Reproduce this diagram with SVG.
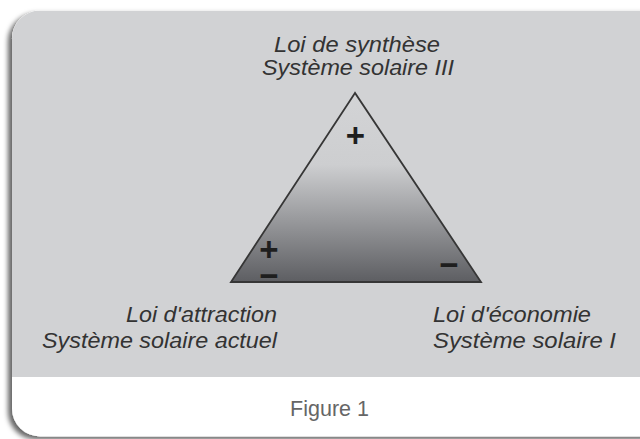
<svg xmlns="http://www.w3.org/2000/svg" width="640" height="439" viewBox="0 0 640 439">
<style>
.lbl{font-family:"Liberation Sans",Arial,sans-serif;font-style:italic;font-size:21.5px;fill:#333333}
.sign{font-family:"Liberation Sans",Arial,sans-serif;font-weight:bold;font-size:33px;fill:#1e1e1e;text-anchor:middle}
.cap{font-family:"Liberation Sans",Arial,sans-serif;font-size:21.5px;fill:#666666;text-anchor:middle}
</style>
<defs>
<filter id="sh" x="-5%" y="-5%" width="110%" height="110%">
<feDropShadow dx="-4" dy="3" stdDeviation="2.8" flood-color="#000" flood-opacity="0.6"/>
</filter>
<clipPath id="cardclip"><rect x="12" y="10.5" width="660" height="426" rx="28"/></clipPath>
<linearGradient id="tri" gradientUnits="userSpaceOnUse" x1="0" y1="93" x2="0" y2="282">
<stop offset="0" stop-color="#d3d4d6"/>
<stop offset="0.38" stop-color="#cdced0"/>
<stop offset="1" stop-color="#5d5e62"/>
</linearGradient>
</defs>
<rect width="640" height="439" fill="#ffffff"/>
<g id="card">
<rect x="12" y="10.5" width="660" height="426" rx="28" fill="#ffffff" filter="url(#sh)"/>
<rect x="12" y="10.5" width="660" height="366.5" clip-path="url(#cardclip)" fill="#d1d2d4"/>
</g>
<g id="connectors"/>
<g id="triangle">
<polygon points="355,93 231,282 481,282" fill="url(#tri)" stroke="#363636" stroke-width="1.8" stroke-linejoin="miter"/>
<text class="sign" x="355.5" y="147">+</text>
<text class="sign" x="269" y="261">+</text>
<text class="sign" x="269" y="287">−</text>
<text class="sign" x="449" y="276">−</text>
</g>
<g id="node-synthese">
<text class="lbl" x="274" y="51.5" textLength="166" lengthAdjust="spacingAndGlyphs">Loi de synthèse</text>
<text class="lbl" x="262" y="75" textLength="192" lengthAdjust="spacingAndGlyphs">Système solaire III</text>
</g>
<g id="node-attraction">
<text class="lbl" x="126" y="321.5" textLength="151" lengthAdjust="spacingAndGlyphs">Loi d'attraction</text>
<text class="lbl" x="42" y="348" textLength="235" lengthAdjust="spacingAndGlyphs">Système solaire actuel</text>
</g>
<g id="node-economie">
<text class="lbl" x="433" y="321.5" textLength="158" lengthAdjust="spacingAndGlyphs">Loi d'économie</text>
<text class="lbl" x="433" y="348" textLength="183" lengthAdjust="spacingAndGlyphs">Système solaire I</text>
</g>
<g id="caption">
<text class="cap" x="329.5" y="416">Figure 1</text>
</g>
</svg>
